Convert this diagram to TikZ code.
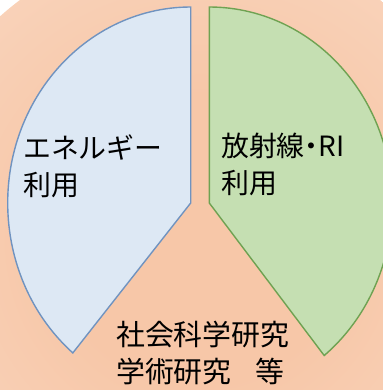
\documentclass[tikz,border=0pt]{standalone}
\usepackage{fontspec}
\newfontfamily\jp{Noto Sans CJK JP}
\newfontfamily\jpp[RawFeature=+palt]{Noto Sans CJK JP}
\definecolor{bgin}{HTML}{F7C7A8}
\definecolor{bgout}{HTML}{FCE6D8}
\definecolor{bluefill}{HTML}{DDE8F4}
\definecolor{blueline}{HTML}{7093C0}
\definecolor{greenfill}{HTML}{C5DFB2}
\definecolor{greenline}{HTML}{6FA252}
\pgfdeclareradialshading{bgshade}{\pgfpoint{0bp}{0bp}}{color(0bp)=(bgin); color(12bp)=(bgin); color(50bp)=(bgout)}
\tikzset{
  wedge/.style={line width=1.4bp, line join=miter},
  bluewedge/.style={wedge, draw=blueline, fill=bluefill},
  greenwedge/.style={wedge, draw=greenline, fill=greenfill},
  label/.style={inner sep=0pt, anchor=north west, align=left, text=black}
}
\begin{document}
\begin{tikzpicture}[x=1bp,y=1bp]
\useasboundingbox (0,0) rectangle (383,390);
\begin{scope}
  \clip (0,0) rectangle (383,390);
  \shade[shading=bgshade] (200,150) circle (300);
\end{scope}
% left wedge (energy)
\coordinate (L) at (190.7,187);
\draw[bluewedge] (L) -- ++(229.9:183 and 196)
  arc[start angle=229.9, end angle=90, x radius=183, y radius=196] -- cycle;
% right wedge (radiation)
\coordinate (R) at (209.3,187);
\draw[greenwedge] (R) -- ++(-51.1:183 and 196)
  arc[start angle=-51.1, end angle=90, x radius=183, y radius=196] -- cycle;
% labels
\node[label, font=\jp\fontsize{28}{37}\selectfont] (energy) at (23,255) {エネルギー\\利用};
\node[label, font=\jp\fontsize{28}{37}\selectfont] (rad) at (221,257) {放射線{\jpp ・}RI\\利用};
\node[label, font=\jp\fontsize{29}{37}\selectfont] (social) at (116,69) {社会科学研究\\学術研究　\kern-5bp 等};
\end{tikzpicture}
\end{document}
